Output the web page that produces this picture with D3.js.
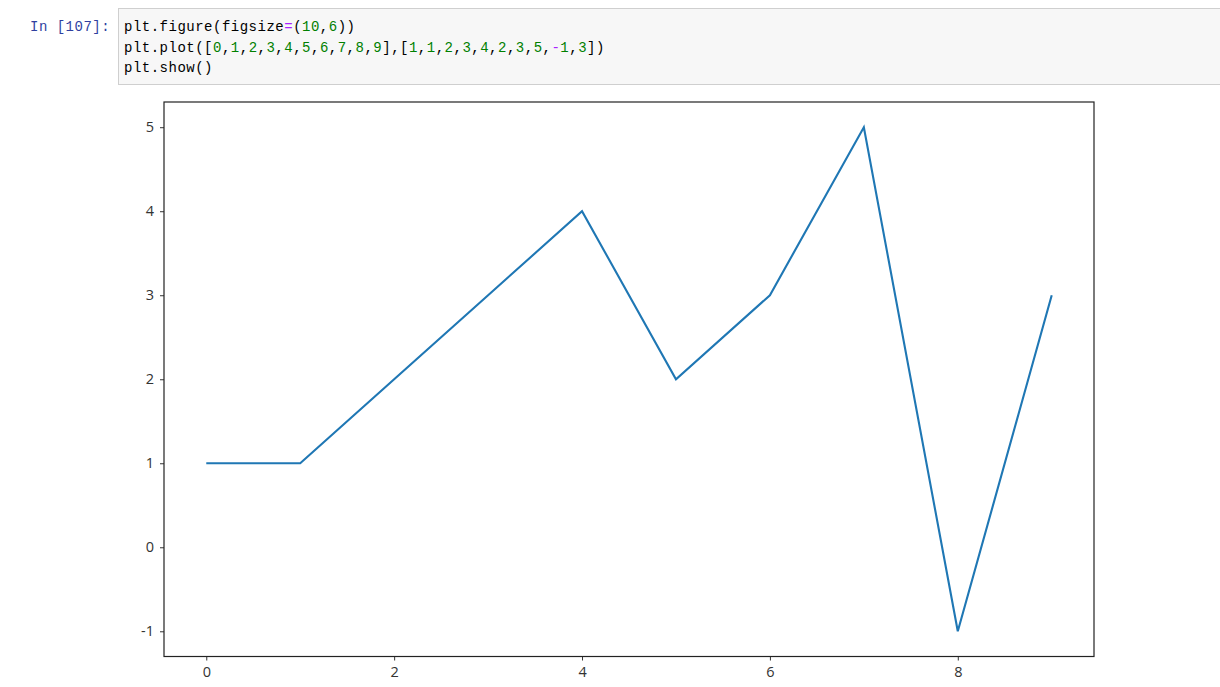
<!DOCTYPE html>
<html><head><meta charset="utf-8">
<script src="https://cdn.jsdelivr.net/npm/d3@7"></script>
<style>
body{margin:0;background:#fff;}
svg{display:block;}
</style></head>
<body>
<svg id="chart" width="1220" height="687"></svg>
<script>
const xValues = [0,1,2,3,4,5,6,7,8,9];
const yValues = [1,1,2,3,4,2,3,5,-1,3];
const xTicks = [0,2,4,6,8];
const yTicks = [-1,0,1,2,3,4,5];
const promptText = "In [107]:";
const codeLines = [
  [["plt.figure(figsize","#000"],["=","#AA22FF"],["(","#000"],["10","#008000"],[",","#000"],["6","#008000"],["))","#000"]],
  [["plt.plot([","#000"],["0","#008000"],[",","#000"],["1","#008000"],[",","#000"],["2","#008000"],[",","#000"],["3","#008000"],[",","#000"],["4","#008000"],[",","#000"],["5","#008000"],[",","#000"],["6","#008000"],[",","#000"],["7","#008000"],[",","#000"],["8","#008000"],[",","#000"],["9","#008000"],["],[","#000"],["1","#008000"],[",","#000"],["1","#008000"],[",","#000"],["2","#008000"],[",","#000"],["3","#008000"],[",","#000"],["4","#008000"],[",","#000"],["2","#008000"],[",","#000"],["3","#008000"],[",","#000"],["5","#008000"],[",","#000"],["-","#AA22FF"],["1","#008000"],[",","#000"],["3","#008000"],["])","#000"]],
  [["plt.show()","#000"]]
];

const svg = d3.select("#chart");

// code cell
svg.append("rect").attr("x",118.5).attr("y",8.5).attr("width",1110).attr("height",76)
  .attr("fill","#f7f7f7").attr("stroke","#cfcfcf").attr("stroke-width",1);
svg.append("text").attr("x",30).attr("y",31).attr("fill","#303F9F")
  .style("font-family","'Liberation Mono','DejaVu Sans Mono',monospace")
  .style("font-size","14px").style("letter-spacing","0.5px").text(promptText);
codeLines.forEach((line,i)=>{
  const t = svg.append("text").attr("x",124).attr("y",31 + i*20.5)
    .style("font-family","'Liberation Mono','DejaVu Sans Mono',monospace")
    .style("font-size","14px").style("letter-spacing","0.5px").attr("xml:space","preserve");
  line.forEach(([s,c])=>t.append("tspan").attr("fill",c).text(s));
});

// plot
const L=164, R=1094, T=102, B=656.5;
const x = d3.scaleLinear().domain([-0.45,9.45]).range([L,R]);
const y = d3.scaleLinear().domain([-1.3,5.3]).range([B,T]);

const line = d3.line().x((d,i)=>x(xValues[i])).y(d=>y(d));
svg.append("path").datum(yValues).attr("d",line).attr("fill","none")
  .attr("stroke","#1f77b4").attr("stroke-width",2.1).attr("stroke-linejoin","miter").attr("stroke-linecap","butt");

const xAxis = d3.axisBottom(x).tickValues(xTicks).tickSize(4).tickPadding(6).tickFormat(d3.format("d"));
const yAxis = d3.axisLeft(y).tickValues(yTicks).tickSize(4).tickPadding(6).tickFormat(d=>d<0?"-"+Math.abs(d):d);
const gx = svg.append("g").attr("transform",`translate(0,${B})`).call(xAxis);
const gy = svg.append("g").attr("transform",`translate(${L},0)`).call(yAxis);
[gx,gy].forEach(g=>{
  g.select(".domain").remove();
  g.selectAll("line").attr("stroke","#333").attr("stroke-width",1);
  g.selectAll("text").attr("fill","#333").style("font-family","'Open Sans','Noto Sans',sans-serif").style("font-size","14.5px");
});
svg.append("rect").attr("x",L).attr("y",T).attr("width",R-L).attr("height",B-T)
  .attr("fill","none").attr("stroke","#222").attr("stroke-width",1.2);
</script>
</body></html>
